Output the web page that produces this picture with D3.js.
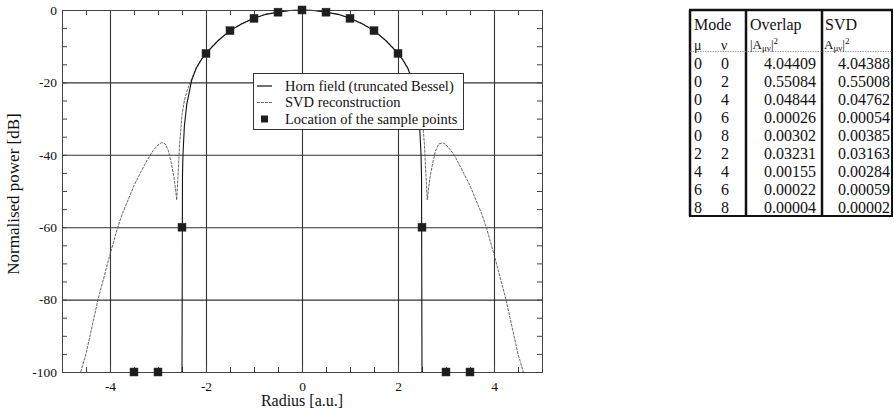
<!DOCTYPE html>
<html>
<head>
<meta charset="utf-8">
<script src="https://cdn.jsdelivr.net/npm/d3@7"></script>
<style>
  html, body { margin: 0; padding: 0; background: #fff; }
  svg { display: block; }
  text { font-family: "Liberation Serif", "Times New Roman", serif; fill: #111; }
</style>
</head>
<body>
<svg id="chart" width="894" height="408"></svg>
<script>
// Horn field (truncated Bessel), radius [a.u.] and normalised power [dB]
const hornR  = [-2.5, -2.49, -2.48, -2.45, -2.4, -2.3, -2.2, -2.1, -2.0, -1.75, -1.5, -1.25, -1.0, -0.75, -0.5, -0.25, 0,
                0.25, 0.5, 0.75, 1.0, 1.25, 1.5, 1.75, 2.0, 2.1, 2.2, 2.3, 2.4, 2.45, 2.48, 2.49, 2.5];
const hornDb = [-100, -46, -40, -32, -26, -19.5, -16, -13.8, -12, -8.5, -5.7, -3.8, -2.3, -1.2, -0.6, -0.15, 0,
                -0.15, -0.6, -1.2, -2.3, -3.8, -5.7, -8.5, -12, -13.8, -16, -19.5, -26, -32, -40, -46, -100];

// SVD reconstruction of the same field
const svdR  = [-4.61, -4.5, -4.25, -4.0, -3.85, -3.75, -3.5, -3.25, -3.1, -3.0, -2.92, -2.85, -2.78, -2.72, -2.67, -2.63, -2.61,
               -2.58, -2.55, -2.5, -2.45, -2.4, -2.3, -2.2, -2.1, -2.0, -1.75, -1.5, -1.25, -1.0, -0.75, -0.5, -0.25, 0,
               0.25, 0.5, 0.75, 1.0, 1.25, 1.5, 1.75, 2.0, 2.1, 2.2, 2.3, 2.4, 2.45, 2.5, 2.55, 2.58,
               2.61, 2.63, 2.67, 2.72, 2.78, 2.85, 2.94, 3.0, 3.1, 3.19, 3.25, 3.5, 3.75, 3.85, 4.0, 4.25, 4.5, 4.61];
const svdDb = [-100, -95, -80, -67.5, -60.5, -56.5, -48.5, -42, -38.8, -37.3, -36.6, -37, -39, -42.5, -46, -50, -52.5,
               -45, -37, -29, -25, -22.5, -19, -15.8, -13.6, -11.8, -8.4, -5.6, -3.7, -2.25, -1.15, -0.55, -0.12, 0,
               -0.12, -0.55, -1.15, -2.25, -3.7, -5.6, -8.4, -11.8, -13.6, -15.8, -19, -22.5, -25, -29, -37, -45,
               -52.5, -50, -46, -42.5, -39, -37, -36.7, -37.2, -38.8, -40.5, -42, -48.5, -56.5, -60.5, -67.5, -80, -95, -100];

// Sample point locations
const sampleR  = [-3.5, -3, -2.5, -2, -1.5, -1, -0.5, 0, 0.5, 1, 1.5, 2, 2.5, 3, 3.5];
const sampleDb = [-100, -100, -60, -12, -5.7, -2.3, -0.6, 0, -0.6, -2.3, -5.7, -12, -60, -100, -100];

// Axis ticks
const xTickVals = [-4, -2, 0, 2, 4];
const yTickVals = [0, -20, -40, -60, -80, -100];

// Mode coefficient table
const modeMu    = [0, 0, 0, 0, 0, 2, 4, 6, 8];
const modeNu    = [0, 2, 4, 6, 8, 2, 4, 6, 8];
const overlapSq = ["4.04409", "0.55084", "0.04844", "0.00026", "0.00302", "0.03231", "0.00155", "0.00022", "0.00004"];
const svdSq     = ["4.04388", "0.55008", "0.04762", "0.00054", "0.00385", "0.03163", "0.00284", "0.00059", "0.00002"];

const svg = d3.select("#chart");
const W = { left: 62, right: 542, top: 10, bottom: 372 };

const x = d3.scaleLinear().domain([-5, 5]).range([W.left, W.right]);
const y = d3.scaleLinear().domain([-100, 0]).range([W.bottom, W.top]);

// Plain hyphen for negative tick labels
const fmt = d => String(d);

svg.append("defs").append("clipPath").attr("id", "plotclip")
  .append("rect").attr("x", W.left).attr("y", W.top - 1)
  .attr("width", W.right - W.left).attr("height", W.bottom - W.top + 2);

// Grid lines
const grid = svg.append("g").attr("stroke", "#333").attr("stroke-width", 1.1);
grid.selectAll("line.v").data(xTickVals).join("line").attr("class", "v")
  .attr("x1", d => x(d) + 0.5).attr("x2", d => x(d) + 0.5)
  .attr("y1", W.top).attr("y2", W.bottom);
grid.selectAll("line.h").data(yTickVals.filter(v => v > -100 && v < 0)).join("line").attr("class", "h")
  .attr("x1", W.left).attr("x2", W.right)
  .attr("y1", d => y(d) + 0.5).attr("y2", d => y(d) + 0.5);

// Axes with inward minor ticks
const xMinor = d3.range(-4.5, 5, 0.5);
const yMinor = d3.range(-95, 0, 5);
const tickLen = 5;
svg.append("g").attr("transform", `translate(0,${W.bottom})`)
  .call(d3.axisBottom(x).tickValues(xMinor).tickSize(-tickLen).tickFormat(""))
  .call(g => g.select(".domain").remove())
  .selectAll("line").attr("stroke", "#444");
svg.append("g").attr("transform", `translate(0,${W.top})`)
  .call(d3.axisTop(x).tickValues(xMinor).tickSize(-tickLen).tickFormat(""))
  .call(g => g.select(".domain").remove())
  .selectAll("line").attr("stroke", "#444");
svg.append("g").attr("transform", `translate(${W.left},0)`)
  .call(d3.axisLeft(y).tickValues(yMinor).tickSize(-tickLen).tickFormat(""))
  .call(g => g.select(".domain").remove())
  .selectAll("line").attr("stroke", "#444");
svg.append("g").attr("transform", `translate(${W.right},0)`)
  .call(d3.axisRight(y).tickValues(yMinor).tickSize(-tickLen).tickFormat(""))
  .call(g => g.select(".domain").remove())
  .selectAll("line").attr("stroke", "#444");

// Tick labels
const xLab = svg.append("g").attr("transform", `translate(0,${W.bottom})`)
  .call(d3.axisBottom(x).tickValues(xTickVals).tickSize(0).tickPadding(9).tickFormat(fmt));
xLab.select(".domain").remove();
xLab.selectAll("text").attr("font-size", 13.5).attr("font-family", "Liberation Serif").attr("fill", "#111");

const yLab = svg.append("g").attr("transform", `translate(${W.left},0)`)
  .call(d3.axisLeft(y).tickValues(yTickVals).tickSize(0).tickPadding(5).tickFormat(fmt));
yLab.select(".domain").remove();
yLab.selectAll("text").attr("font-size", 13.5).attr("font-family", "Liberation Serif").attr("fill", "#111");

// Curves
const line = d3.line().x(d => x(d[0])).y(d => y(d[1]));
const plot = svg.append("g").attr("clip-path", "url(#plotclip)");
plot.append("path").datum(d3.zip(svdR, svdDb))
  .attr("d", line).attr("fill", "none")
  .attr("stroke", "#555").attr("stroke-width", 0.9).attr("stroke-dasharray", "3,1");
plot.append("path").datum(d3.zip(hornR, hornDb))
  .attr("d", line).attr("fill", "none")
  .attr("stroke", "#111").attr("stroke-width", 1.1);

// Frame
svg.append("rect").attr("x", W.left + 0.5).attr("y", W.top + 0.5)
  .attr("width", W.right - W.left).attr("height", W.bottom - W.top)
  .attr("fill", "none").attr("stroke", "#444").attr("stroke-width", 1);

// Sample points
const sq = 8;
svg.append("g").selectAll("rect").data(d3.zip(sampleR, sampleDb)).join("rect")
  .attr("x", d => x(d[0]) - sq / 2).attr("y", d => y(d[1]) - sq / 2)
  .attr("width", sq).attr("height", sq)
  .attr("fill", "#1e1e1e").attr("stroke", "#333").attr("stroke-width", 0.5);

// Axis titles
svg.append("text").attr("x", x(0)).attr("y", 406).attr("text-anchor", "middle")
  .attr("font-size", 16).text("Radius [a.u.]");
svg.append("text").attr("transform", `translate(19,${(W.top + W.bottom) / 2 + 3}) rotate(-90)`)
  .attr("text-anchor", "middle").attr("font-size", 17).text("Normalised power [dB]");

// Legend
const lg = svg.append("g").attr("transform", "translate(253,73)");
lg.append("rect").attr("x", 0.5).attr("y", 0.5).attr("width", 210).attr("height", 56)
  .attr("fill", "#fff").attr("stroke", "#333").attr("stroke-width", 1);
const legendItems = ["Horn field (truncated Bessel)", "SVD reconstruction", "Location of the sample points"];
legendItems.forEach((label, i) => {
  const cy = 13 + i * 16.5;
  if (i === 0) lg.append("line").attr("x1", 4).attr("x2", 19).attr("y1", cy).attr("y2", cy)
    .attr("stroke", "#111").attr("stroke-width", 1.2);
  if (i === 1) lg.append("line").attr("x1", 4).attr("x2", 19).attr("y1", cy).attr("y2", cy)
    .attr("stroke", "#555").attr("stroke-width", 0.9).attr("stroke-dasharray", "3,1");
  if (i === 2) lg.append("rect").attr("x", 8).attr("y", cy - 3.5).attr("width", 7).attr("height", 7)
    .attr("fill", "#1e1e1e");
  lg.append("text").attr("x", 32).attr("y", cy + 4.5).attr("font-size", 14.5).text(label);
});

// Mode table
const tb = svg.append("g");
const tLeft = 690, tDiv1 = 746, tDiv2 = 822, tRight = 892, tTop = 10, tBottom = 216;
const rowY0 = 68.5, rowStep = 18;
const border = (x1, y1, x2, y2, w) => tb.append("line").attr("x1", x1).attr("y1", y1)
  .attr("x2", x2).attr("y2", y2).attr("stroke", "#111").attr("stroke-width", w);
border(tLeft, tTop, tLeft, tBottom, 2.5);
border(tDiv1, tTop, tDiv1, tBottom, 2.5);
border(tDiv2, tTop, tDiv2, tBottom, 2.5);
border(tRight, tTop, tRight, tBottom, 2);
border(tLeft - 1, tTop, tRight + 1, tTop, 2.5);
border(tLeft - 1, tBottom, tRight + 1, tBottom, 2);
tb.append("line").attr("x1", tLeft).attr("x2", tRight).attr("y1", 51.5).attr("y2", 51.5)
  .attr("stroke", "#888").attr("stroke-width", 0.8).attr("stroke-dasharray", "1.5,1");

const hdr = (tx, ty, s, size) => tb.append("text").attr("x", tx).attr("y", ty)
  .attr("font-size", size || 16).text(s);
hdr(694, 29.5, "Mode");
hdr(750, 29.5, "Overlap");
hdr(825, 29.5, "SVD");
hdr(694, 49.5, "μ", 14);
hdr(721, 49.5, "ν", 14);

const sub = (tx, lead) => {
  const t = tb.append("text").attr("x", tx).attr("y", 49).attr("font-size", 13);
  t.append("tspan").text(lead + "A");
  t.append("tspan").attr("font-size", 9).attr("dy", 2).text("μν");
  t.append("tspan").attr("dy", -2).text("|");
  t.append("tspan").attr("font-size", 9).attr("dy", -5).text("2");
};
sub(750, "|");
sub(824, "");

modeMu.forEach((m, i) => {
  const ty = rowY0 + i * rowStep;
  hdr(694, ty, String(m));
  hdr(721, ty, String(modeNu[i]));
  tb.append("text").attr("x", 816).attr("y", ty).attr("text-anchor", "end").attr("font-size", 16).text(overlapSq[i]);
  tb.append("text").attr("x", 890).attr("y", ty).attr("text-anchor", "end").attr("font-size", 16).text(svdSq[i]);
});
</script>
</body>
</html>
